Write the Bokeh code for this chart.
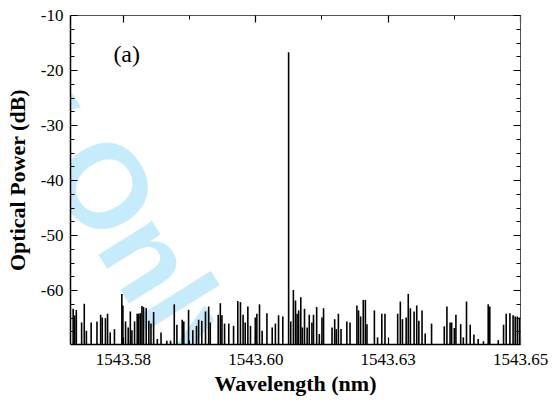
from bokeh.plotting import figure
from bokeh.models import FixedTicker, LinearAxis, Label
from bokeh.embed import file_html
from bokeh.resources import INLINE

# ---- data (wavelength in nm, optical power in dB) ----
wavelength = [
    1543.5655, 1543.5658, 1543.5661, 1543.5671, 1543.5676, 1543.5680, 1543.5689, 1543.5700,
    1543.5707, 1543.5710, 1543.5716, 1543.5720, 1543.5725, 1543.5733, 1543.5747, 1543.5749,
    1543.5754, 1543.5759, 1543.5763, 1543.5766, 1543.5771, 1543.5776, 1543.5779, 1543.5782,
    1543.5785, 1543.5788, 1543.5793, 1543.5798, 1543.5802, 1543.5807, 1543.5814, 1543.5821,
    1543.5832, 1543.5839, 1543.5846, 1543.5851, 1543.5861, 1543.5864, 1543.5873, 1543.5881,
    1543.5888, 1543.5892, 1543.5898, 1543.5905, 1543.5911, 1543.5914, 1543.5929, 1543.5933,
    1543.5936, 1543.5941, 1543.5949, 1543.5958, 1543.5966, 1543.5971, 1543.5976, 1543.5980,
    1543.5985, 1543.5990, 1543.5999, 1543.6002, 1543.6007, 1543.6012, 1543.6021, 1543.6031,
    1543.6037, 1543.6043, 1543.6051, 1543.6062, 1543.6066, 1543.6071, 1543.6075, 1543.6078,
    1543.6081, 1543.6085, 1543.6088, 1543.6092, 1543.6097, 1543.6101, 1543.6106, 1543.6109,
    1543.6115, 1543.6120, 1543.6125, 1543.6128, 1543.6144, 1543.6149, 1543.6152, 1543.6156,
    1543.6161, 1543.6172, 1543.6178, 1543.6191, 1543.6194, 1543.6198, 1543.6203, 1543.6207,
    1543.6210, 1543.6224, 1543.6230, 1543.6238, 1543.6244, 1543.6268, 1543.6273, 1543.6277,
    1543.6284, 1543.6288, 1543.6292, 1543.6299, 1543.6304, 1543.6308, 1543.6314, 1543.6320,
    1543.6332, 1543.6356, 1543.6361, 1543.6367, 1543.6370, 1543.6375, 1543.6378, 1543.6387,
    1543.6392, 1543.6398, 1543.6405, 1543.6412, 1543.6420, 1543.6430, 1543.6439, 1543.6442,
    1543.6458, 1543.6468, 1543.6473, 1543.6480, 1543.6486, 1543.6490, 1543.6494, 1543.6498,
]
power = [
    -63.3, -64.5, -63.5, -65.8, -62.4, -67.3, -65.8, -65.6,
    -64.4, -64.9, -65.0, -64.2, -67.6, -67.0, -60.6, -62.7,
    -65.6, -66.7, -63.8, -67.2, -65.6, -64.2, -64.2, -64.1,
    -62.8, -63.0, -63.2, -65.5, -66.0, -63.9, -68.8, -67.6,
    -69.1, -69.1, -62.5, -66.2, -65.3, -65.6, -63.5, -67.2,
    -66.4, -65.3, -65.5, -63.8, -62.9, -65.8, -64.4, -62.3,
    -64.5, -66.0, -66.0, -66.4, -61.9, -62.1, -64.4, -65.8,
    -62.9, -66.4, -64.9, -64.2, -62.5, -67.3, -64.1, -66.7,
    -66.0, -64.5, -64.7, -16.7, -65.6, -59.9, -61.8, -64.2,
    -63.6, -61.2, -66.7, -63.3, -66.7, -64.4, -65.8, -64.4,
    -63.0, -67.9, -64.9, -63.2, -66.7, -65.2, -67.0, -64.2,
    -67.0, -65.6, -65.8, -62.7, -63.6, -64.7, -61.7, -61.7,
    -66.1, -63.6, -68.5, -64.2, -64.2, -64.2, -62.0, -65.2,
    -64.9, -60.6, -63.2, -63.8, -62.7, -65.5, -63.6, -67.8,
    -66.0, -66.5, -62.9, -65.8, -65.8, -66.8, -64.4, -66.1,
    -68.5, -62.0, -66.2, -68.0, -68.8, -69.2, -62.5, -62.9,
    -69.0, -66.2, -64.2, -64.1, -64.5, -64.7, -64.7, -64.9,
]

x_min, x_max = 1543.565, 1543.650
y_min, y_max = -69.8, -10.0

x_tick_values = [1543.575, 1543.600, 1543.625, 1543.650]
x_tick_labels = ["1543.58", "1543.60", "1543.63", "1543.65"]
x_minor_values = [1543.5875, 1543.6125, 1543.6375]
y_tick_values = [-60, -50, -40, -30, -20, -10]
y_tick_labels = ["-60", "-50", "-40", "-30", "-20", "-10"]
y_minor_values = [-67.5, -65, -62.5, -57.5, -55, -52.5, -47.5, -45, -42.5,
                  -37.5, -35, -32.5, -27.5, -25, -22.5, -17.5, -15, -12.5]

x_title = "Wavelength (nm)"
y_title = "Optical Power (dB)"
panel_tag = "(a)"
watermark = "For Review Only"

SERIF = "Liberation Serif"

p = figure(width=553, height=400, x_range=(x_min, x_max), y_range=(y_min, y_max),
           output_backend="svg", toolbar_location=None,
           min_border_left=70, min_border_right=33, min_border_top=15, min_border_bottom=56)
p.xgrid.visible = False
p.ygrid.visible = False
p.outline_line_color = None
p.background_fill_color = "white"
p.border_fill_color = "white"

# watermark (screen position relative to the plot frame), under the data and the axes
wm = Label(x=151, y=-28, x_units="screen", y_units="screen", text=watermark,
           angle=-58, angle_units="deg", text_font="Liberation Sans", text_font_style="bold",
           text_font_size="120px", text_color="#c6ebfb", text_align="right",
           text_baseline="alphabetic", level="guide")
p.add_layout(wm)

# spectrum spikes (drawn above the watermark)
spikes = p.segment(x0=wavelength, y0=y_min, x1=wavelength, y1=power,
                   line_color="black", line_width=1.6)
spikes.level = "annotation"

xt = FixedTicker(ticks=x_tick_values, minor_ticks=x_minor_values)
yt = FixedTicker(ticks=y_tick_values, minor_ticks=y_minor_values)

def style(ax):
    ax.level = "overlay"
    ax.major_tick_in = 7
    ax.major_tick_out = 0
    ax.minor_tick_in = 4
    ax.minor_tick_out = 0
    ax.axis_line_color = "black"
    ax.major_tick_line_color = "black"
    ax.minor_tick_line_color = "black"
    ax.axis_line_width = 1.5
    ax.major_tick_line_width = 1.2
    ax.minor_tick_line_width = 1.0
    ax.major_label_text_font = SERIF
    ax.major_label_text_font_size = "17px"
    ax.major_label_text_color = "black"
    ax.axis_label_text_font = SERIF
    ax.axis_label_text_font_style = "bold"
    ax.axis_label_text_font_size = "22px"
    ax.axis_label_text_color = "black"

xa = p.xaxis[0]
xa.ticker = xt
xa.major_label_overrides = dict(zip(x_tick_values, x_tick_labels))
xa.axis_label = x_title
style(xa)
xa.major_label_standoff = 9
xa.axis_label_standoff = 3

ya = p.yaxis[0]
ya.ticker = yt
ya.major_label_overrides = dict(zip(y_tick_values, y_tick_labels))
ya.axis_label = y_title
style(ya)
ya.major_label_standoff = 7
ya.axis_label_standoff = 8

top = LinearAxis(ticker=xt, major_label_standoff=0)
style(top)
top.major_label_overrides = {v: "" for v in x_tick_values}
top.axis_line_width = 1.0
top.axis_line_color = "#555555"
p.add_layout(top, "above")

right = LinearAxis(ticker=yt, major_label_standoff=0)
style(right)
right.major_label_overrides = {v: "" for v in y_tick_values}
right.axis_line_width = 1.0
right.axis_line_color = "#555555"
p.add_layout(right, "right")

p.add_layout(Label(x=1543.5731, y=-19.3, text=panel_tag, text_font=SERIF,
                   text_font_size="24px", text_color="black", level="overlay"))

open("out.html", "w").write(file_html(p, INLINE))
